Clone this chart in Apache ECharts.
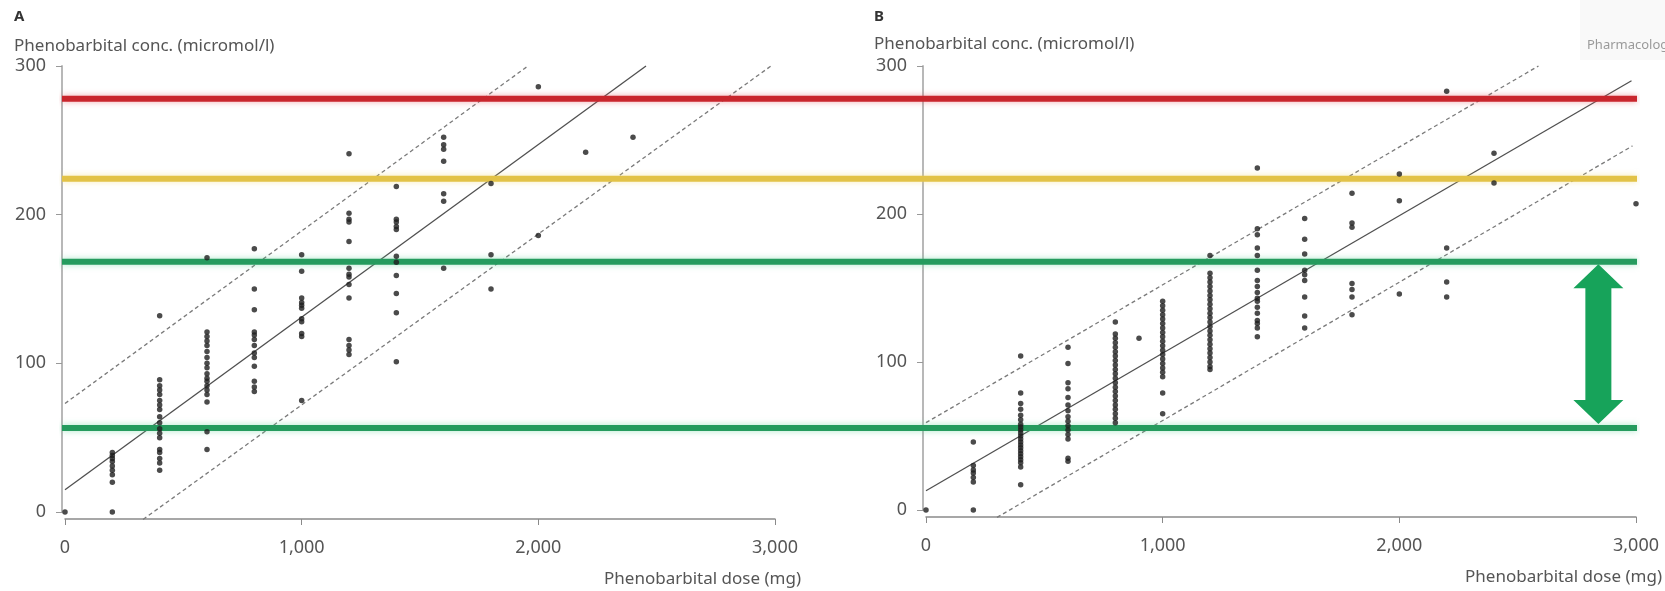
<!DOCTYPE html>
<html><head><meta charset="utf-8">
<script src="https://cdn.jsdelivr.net/npm/echarts/dist/echarts.min.js"></script>
<style>html,body{margin:0;padding:0;background:#fff}#c{width:1665px;height:591px}</style>
</head><body><div id="c"></div>
<script>
// ---------- data ----------
const doseTicks = [0, 1000, 2000, 3000];
const concTicks = [0, 100, 200, 300];

const aDoses = [0, 200, 400, 600, 800, 1000, 1200, 1400, 1600, 1800, 2000, 2200, 2400];
const aConc = [
  [0],
  [40, 38, 36, 34, 31, 28, 25, 20, 0],
  [132, 89, 85, 82, 79, 75, 72, 69, 64, 60, 56, 53, 50, 42, 40, 36, 33, 28],
  [171, 121, 118, 115, 112, 108, 104, 100, 97, 93, 90, 88, 85, 82, 79, 74, 54, 42],
  [177, 150, 136, 121, 119, 116, 112, 107, 104, 98, 88, 84, 81],
  [173, 162, 144, 141, 139, 137, 130, 128, 120, 118, 75],
  [241, 201, 197, 195, 182, 164, 160, 158, 153, 144, 116, 112, 109, 106],
  [219, 197, 195, 192, 190, 172, 168, 159, 147, 134, 101],
  [252, 247, 244, 236, 214, 209, 164],
  [221, 173, 150],
  [286, 186],
  [242],
  [252]
];

const bDoses = [0, 200, 400, 600, 800, 900, 1000, 1200, 1400, 1600, 1800, 2000, 2200, 2400, 3000];
const bConc = [
  [0],
  [46, 30, 27, 25, 22, 19, 0],
  [104, 79, 72, 68, 64, 61, 58, 56, 54, 52, 50, 48, 46, 44, 42, 40, 38, 36, 34, 32, 29, 17],
  [110, 99, 86, 82, 76, 71, 67, 63, 60, 57, 54, 51, 48, 35, 33],
  [127, 119, 116, 113, 110, 107, 104, 101, 98, 95, 92, 89, 86, 83, 80, 77, 74, 71, 68, 65, 62, 59],
  [116],
  [141, 138, 135, 132, 129, 126, 123, 120, 117, 114, 111, 108, 105, 102, 99, 96, 93, 90, 79, 65],
  [172, 160, 157, 154, 151, 148, 145, 142, 139, 136, 133, 130, 127, 124, 121, 118, 115, 112, 109, 106, 103, 100, 97, 95],
  [231, 190, 186, 177, 172, 162, 155, 151, 147, 143, 141, 137, 133, 128, 126, 123, 117],
  [197, 183, 173, 162, 159, 155, 144, 131, 123],
  [214, 194, 191, 153, 149, 144, 132],
  [227, 209, 146],
  [283, 177, 154, 144],
  [241, 221],
  [207]
];

// regression line and prediction limits (dose, conc)
const aFit = [[0, 15], [2455, 300]];
const aUpper = [[0, 73], [1956, 300]];
const aLower = [[330, -5], [2983, 300]];
const bFit = [[0, 13], [2981, 290]];
const bUpper = [[0, 59], [2588, 300]];
const bLower = [[300, -5], [2985, 246]];

// reference levels (micromol/l): toxic, high, therapeutic upper, therapeutic lower
const toxicLevel = 278;
const highLevel = 224;
const therapeuticUpper = 168;
const therapeuticLower = 56;

// therapeutic-range arrow in panel B: [dose, upper, lower]
const arrowB = [2841, 168, 56];

const panelLabels = ['A', 'B'];
const yTitle = 'Phenobarbital conc. (micromol/l)';
const xTitle = 'Phenobarbital dose (mg)';

// ---------- chart ----------
const toPts = (doses, conc) => doses.flatMap((d, i) => conc[i].map(c => [d, c]));
const FONT = 'Noto Sans';
const labelColor = '#555';

function xAxisFor(gi) {
  return {
    type: 'value', gridIndex: gi, min: 0, max: 3000, interval: 1000, offset: 7,
    axisLine: { show: true, onZero: false, lineStyle: { color: '#8a8a8a', width: 1.5 } },
    axisTick: { show: true, length: 6, lineStyle: { color: '#8a8a8a' } },
    splitLine: { show: false },
    axisLabel: { color: labelColor, fontSize: 18, fontFamily: FONT, margin: 20,
      formatter: v => doseTicks.includes(v) ? v.toLocaleString('en-US') : '' },
    name: xTitle, nameLocation: 'end', nameGap: 26,
    nameTextStyle: { color: labelColor, fontSize: 17, fontFamily: FONT, align: 'right', verticalAlign: 'top', padding: [52, 0, 0, 0] }
  };
}
function yAxisFor(gi) {
  return {
    type: 'value', gridIndex: gi, min: 0, max: 300, interval: 100, offset: 3,
    axisLine: { show: true, onZero: false, lineStyle: { color: '#b8b8b8', width: 2 } },
    axisTick: { show: true, length: 6, lineStyle: { color: '#999' } },
    splitLine: { show: false },
    axisLabel: { color: labelColor, fontSize: 18, fontFamily: FONT, margin: 16,
      formatter: v => concTicks.includes(v) ? String(v) : '' }
  };
}

const lineSeries = (data, gi, dashed) => ({
  type: 'line', xAxisIndex: gi, yAxisIndex: gi, data, symbol: 'none', clip: false, z: 2,
  lineStyle: { color: dashed ? '#7a7a7a' : '#505050', width: 1.3, type: dashed ? [4, 3] : 'solid' },
  silent: true
});

const levelSeries = (val, color, glow) => ({
  type: 'line', xAxisIndex: 2, yAxisIndex: 2, data: [[0, val], [1, val]], symbol: 'none', z: 3, silent: true,
  lineStyle: { color, width: 6, shadowColor: glow, shadowBlur: 6 }
});

const chart = echarts.init(document.getElementById('c'), null, { renderer: 'canvas' });
chart.setOption({
  animation: false,
  backgroundColor: '#fff',
  textStyle: { fontFamily: FONT },
  title: [
    { text: panelLabels[0], left: 9, top: 4, textStyle: { fontSize: 15, fontWeight: 'bold', color: '#333', fontFamily: FONT } },
    { text: yTitle, left: 9, top: 33, textStyle: { fontSize: 17, fontWeight: 'normal', color: labelColor, fontFamily: FONT } },
    { text: panelLabels[1], left: 869, top: 4, textStyle: { fontSize: 15, fontWeight: 'bold', color: '#333', fontFamily: FONT } },
    { text: yTitle, left: 869, top: 31, textStyle: { fontSize: 17, fontWeight: 'normal', color: labelColor, fontFamily: FONT } }
  ],
  graphic: [
    { type: 'rect', left: 1580, top: 0, shape: { width: 85, height: 60 }, style: { fill: '#f9f9f9' }, z: -1 },
    { type: 'text', left: 1587, top: 39, style: { text: 'Pharmacology', fill: '#9a9a9a', fontSize: 13, fontFamily: FONT } }
  ],
  grid: [
    { left: 65, right: 890, top: 66, bottom: 79 },
    { left: 926, right: 29, top: 66, bottom: 81 },
    { left: 62, right: 28, top: 66, bottom: 80 }
  ],
  xAxis: [xAxisFor(0), xAxisFor(1), { type: 'value', gridIndex: 2, min: 0, max: 1, show: false }],
  yAxis: [yAxisFor(0), yAxisFor(1), { type: 'value', gridIndex: 2, min: 0, max: 300, show: false }],
  series: [
    levelSeries(toxicLevel, '#c9252c', 'rgba(230,80,90,0.5)'),
    levelSeries(highLevel, '#e2c247', 'rgba(240,215,110,0.5)'),
    levelSeries(therapeuticUpper, '#259b5e', 'rgba(90,210,150,0.5)'),
    levelSeries(therapeuticLower, '#259b5e', 'rgba(90,210,150,0.5)'),
    lineSeries(aFit, 0, false), lineSeries(aUpper, 0, true), lineSeries(aLower, 0, true),
    lineSeries(bFit, 1, false), lineSeries(bUpper, 1, true), lineSeries(bLower, 1, true),
    {
      type: 'custom', xAxisIndex: 1, yAxisIndex: 1, z: 4, silent: true,
      data: [arrowB], encode: { x: 0, y: [1, 2] },
      renderItem: (params, api) => {
        const t = api.coord([api.value(0), api.value(1)]);
        const b = api.coord([api.value(0), api.value(2)]);
        const cx = t[0], ty = t[1] + 3, by = b[1] - 3, hw = 25, sw = 13, hh = 24;
        return {
          type: 'polygon',
          shape: { points: [[cx, ty], [cx + hw, ty + hh], [cx + sw, ty + hh], [cx + sw, by - hh], [cx + hw, by - hh],
            [cx, by], [cx - hw, by - hh], [cx - sw, by - hh], [cx - sw, ty + hh], [cx - hw, ty + hh]] },
          style: { fill: '#17a35a' }
        };
      }
    },
    { type: 'scatter', xAxisIndex: 0, yAxisIndex: 0, data: toPts(aDoses, aConc), symbolSize: 5.5, clip: false, z: 5,
      itemStyle: { color: '#1e1e1e' }, silent: true },
    { type: 'scatter', xAxisIndex: 1, yAxisIndex: 1, data: toPts(bDoses, bConc), symbolSize: 5.5, clip: false, z: 5,
      itemStyle: { color: '#1e1e1e' }, silent: true }
  ]
});
</script>
</body></html>
